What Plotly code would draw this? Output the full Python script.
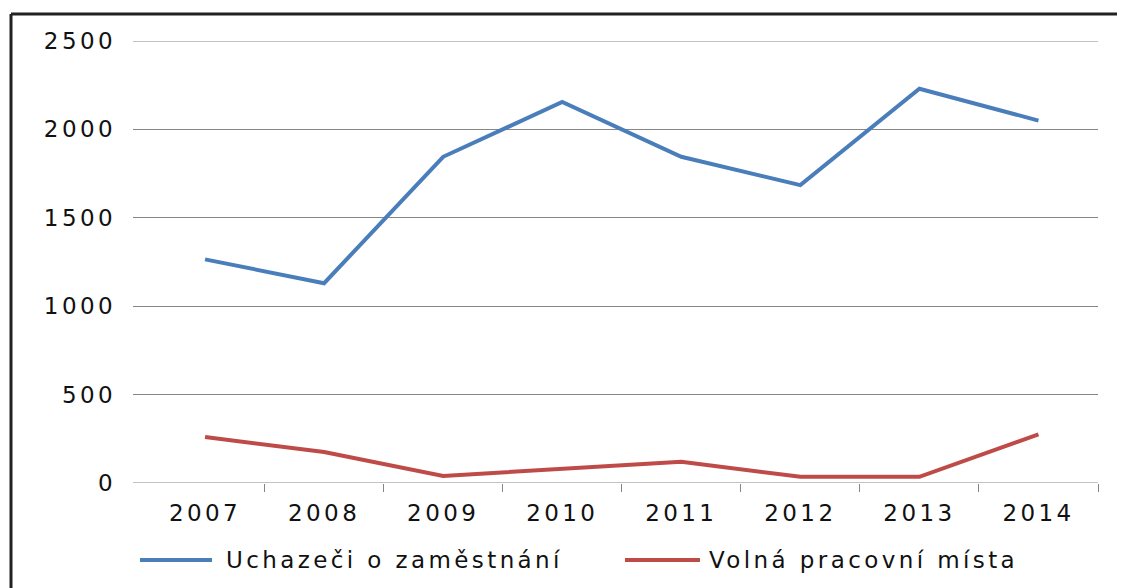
import plotly.graph_objects as go

years = ["2007", "2008", "2009", "2010", "2011", "2012", "2013", "2014"]
uchazeci = [1265, 1130, 1845, 2155, 1845, 1685, 2230, 2050]
volna = [260, 175, 40, 80, 120, 35, 35, 275]
series_names = ["Uchazeči o zaměstnání", "Volná pracovní místa"]
colors = ["#4a7ebb", "#be4b48"]
y_ticks = [0, 500, 1000, 1500, 2000, 2500]

FONT = "DejaVu Sans"
FS = 23
TXT = "#111111"
OFF = 8  # page body margin
W, H = 1125 - OFF, 588 - OFF
L, T = 133 - OFF, 41 - OFF
R = W + OFF - 1098
B = H + OFF - 483
PW, PH = W - L - R, H - T - B


def spaced(s):
    return '<span style="letter-spacing:3.4px">' + s + '</span>'


xs = list(range(len(years)))
fig = go.Figure()
for name, vals, col in zip(series_names, [uchazeci, volna], colors):
    fig.add_trace(go.Scatter(x=xs, y=vals, mode="lines", name=name,
                             line=dict(color=col, width=4), showlegend=False))

fig.add_trace(go.Scatter(x=[0.5], y=[0], xaxis="x2", mode="markers",
                         marker=dict(opacity=0), showlegend=False, hoverinfo="skip"))

xr = [-0.605, 7.5]
fig.update_layout(
    width=W, height=H,
    margin=dict(l=L, r=R, t=T, b=B),
    paper_bgcolor="white", plot_bgcolor="white",
    font=dict(family=FONT, size=FS, color=TXT),
    xaxis=dict(range=xr, tickvals=xs, ticktext=[spaced(y) for y in years], ticks="",
               showgrid=False, zeroline=False, showline=False, ticklabelstandoff=14,
               tickfont=dict(size=FS, family=FONT, color=TXT)),
    xaxis2=dict(range=xr, overlaying="x", tickvals=[i + 0.5 for i in xs],
                showticklabels=False, ticks="outside", ticklen=8, tickcolor="#868686",
                tickwidth=1, showgrid=False, zeroline=False, showline=False, side="bottom"),
    yaxis=dict(range=[0, 2500], tickvals=y_ticks, ticktext=[spaced(str(v)) for v in y_ticks],
               showgrid=True, gridcolor="#868686", gridwidth=1, zeroline=False,
               showline=False, ticks="", ticklabelstandoff=16,
               tickfont=dict(size=FS, family=FONT, color=TXT)),
)

for yv in (y_ticks[0], y_ticks[-1]):
    fig.add_shape(type="line", xref="paper", yref="y", x0=0, x1=1, y0=yv, y1=yv,
                  line=dict(color="#868686", width=1))


def px_x(p):
    return (p - OFF - L) / PW


def px_y(p):
    return (H + OFF - B - p) / PH


# outer chart border (left and top edges visible)
fig.add_shape(type="line", xref="paper", yref="paper",
              x0=px_x(11), x1=px_x(11), y0=px_y(600), y1=px_y(14),
              line=dict(color="#222222", width=3), layer="above")
fig.add_shape(type="line", xref="paper", yref="paper",
              x0=px_x(11), x1=px_x(1130), y0=px_y(14), y1=px_y(14),
              line=dict(color="#222222", width=3), layer="above")

leg_y = px_y(560)
legend_items = [(140, 212, 224), (625, 700, 707)]
for (lx0, lx1, tx), name, col in zip(legend_items, series_names, colors):
    fig.add_shape(type="line", xref="paper", yref="paper",
                  x0=px_x(lx0), x1=px_x(lx1), y0=leg_y, y1=leg_y,
                  line=dict(color=col, width=4))
    fig.add_annotation(xref="paper", yref="paper", x=px_x(tx), y=leg_y,
                       text=spaced(name), showarrow=False, xanchor="left", yanchor="middle",
                       font=dict(size=FS, family=FONT, color=TXT))

fig.write_html("out.html")
